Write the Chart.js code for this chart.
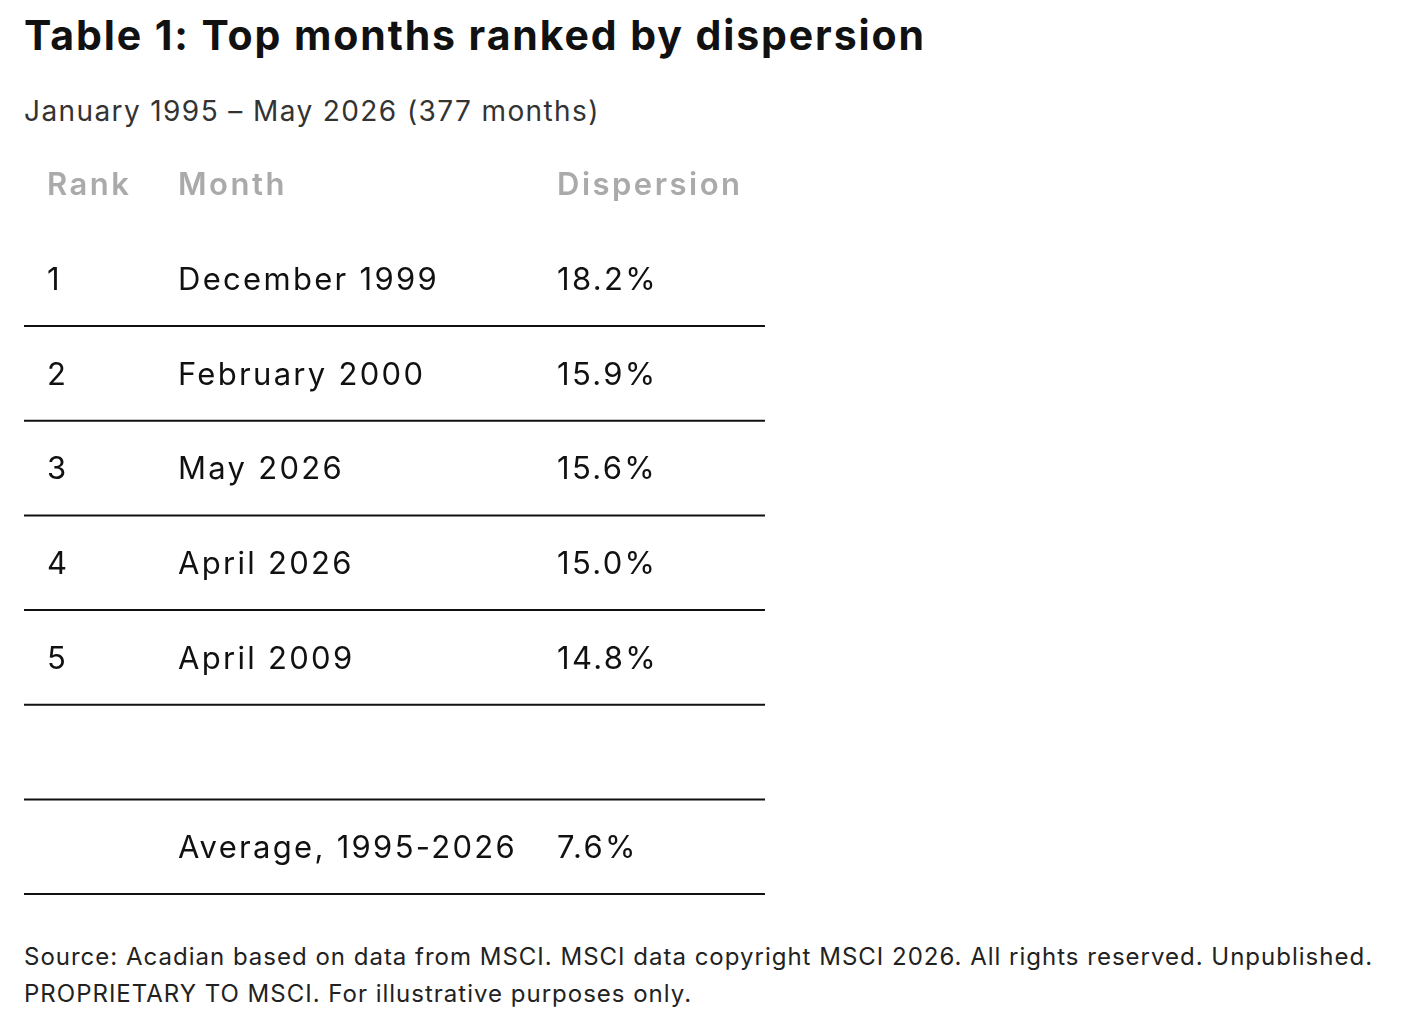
<!DOCTYPE html>
<html>
<head>
<meta charset="utf-8">
<script src="https://cdn.jsdelivr.net/npm/chart.js@4"></script>
<style>
  body { margin: 0; background: #fff; font-family: Inter, "Noto Sans", sans-serif; color: #111; }
  h1 { position: absolute; left: 24px; top: 10px; margin: 0; font-size: 41px; font-weight: 700; letter-spacing: 1.9px; }
  .sub { position: absolute; left: 24px; top: 94px; font-size: 28px; color: #333; letter-spacing: 1.4px; }
  .src { position: absolute; left: 24px; top: 938px; font-size: 24px; line-height: 37px; color: #222; letter-spacing: 1px; }
  #wrap { position: absolute; left: 0; top: 140px; width: 800px; height: 770px; }
</style>
</head>
<body>
<h1>Table 1: Top months ranked by dispersion</h1>
<div class="sub">January 1995 – May 2026 (377 months)</div>
<div id="wrap"><canvas id="tbl" width="800" height="770"></canvas></div>
<div class="src">Source: Acadian based on data from MSCI. MSCI data copyright MSCI 2026. All rights reserved. Unpublished.<br>PROPRIETARY TO MSCI. For illustrative purposes only.</div>
<script>
const headers = ['Rank', 'Month', 'Dispersion'];
const ranks = ['1', '2', '3', '4', '5', '', ''];
const months = ['December 1999', 'February 2000', 'May 2026', 'April 2026', 'April 2009', '', 'Average, 1995-2026'];
const dispersion = ['18.2%', '15.9%', '15.6%', '15.0%', '14.8%', '', '7.6%'];
const columnX = [47, 178, 557];
const ruleRows = [1.48, 2.48, 3.48, 4.48, 5.48, 6.48, 7.48];

// one 2-point line per horizontal rule
const ruleSets = ruleRows.map(r => ({
  type: 'line',
  data: [{ x: 24, y: r }, { x: 765, y: r }],
  borderColor: '#111',
  borderWidth: 2,
  pointRadius: 0
}));

const cellText = {
  id: 'cellText',
  afterDatasetsDraw(chart) {
    const { ctx, scales: { x, y } } = chart;
    ctx.save();
    ctx.textBaseline = 'middle';
    ctx.fillStyle = '#aaa';
    ctx.font = '600 31px Inter, sans-serif';
    ctx.letterSpacing = '2.5px';
    headers.forEach((h, i) => ctx.fillText(h, x.getPixelForValue(columnX[i]), y.getPixelForValue(0)));
    ctx.fillStyle = '#111';
    ctx.font = '400 31px Inter, sans-serif';
    ctx.letterSpacing = '2.3px';
    const cols = [ranks, months, dispersion];
    cols.forEach((col, c) => col.forEach((t, r) => {
      if (t) ctx.fillText(t, x.getPixelForValue(columnX[c]), y.getPixelForValue(r + 1));
    }));
    ctx.restore();
  }
};

new Chart(document.getElementById('tbl'), {
  type: 'scatter',
  data: { datasets: ruleSets },
  options: {
    responsive: false,
    animation: false,
    events: [],
    layout: { padding: 0 },
    plugins: { legend: { display: false }, tooltip: { enabled: false } },
    scales: {
      x: { type: 'linear', min: 0, max: 800, display: false },
      y: { type: 'linear', min: -0.486, max: 7.648, reverse: true, display: false }
    }
  },
  plugins: [cellText]
});
</script>
</body>
</html>
